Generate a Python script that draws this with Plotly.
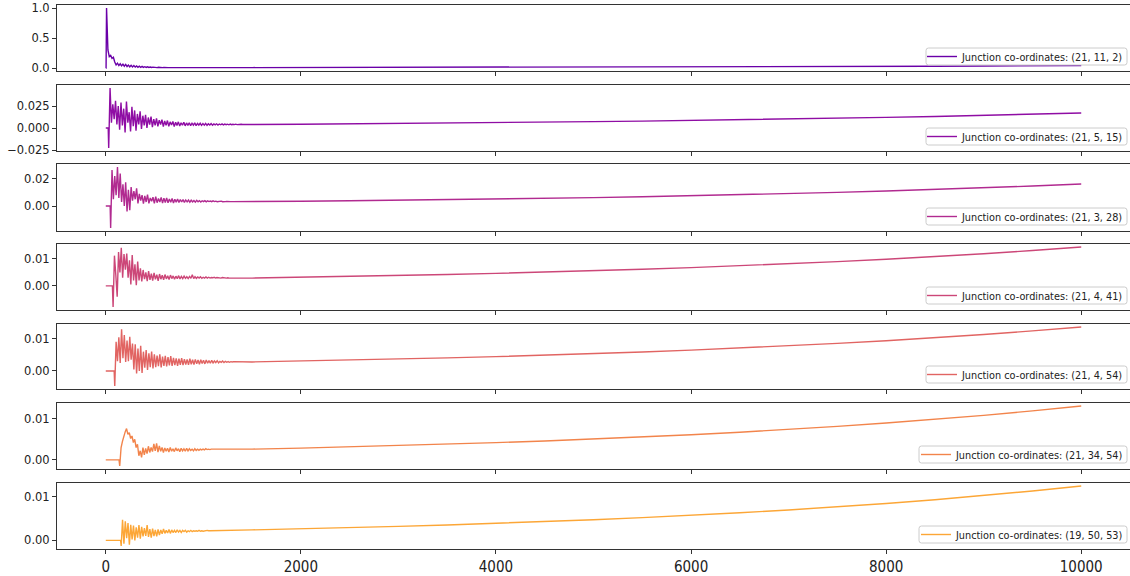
import numpy as np
import plotly.graph_objects as go

# ---------------------------------------------------------------- data
LABELS = [
    "Junction co-ordinates: (21, 11, 2)",
    "Junction co-ordinates: (21, 5, 15)",
    "Junction co-ordinates: (21, 3, 28)",
    "Junction co-ordinates: (21, 4, 41)",
    "Junction co-ordinates: (21, 4, 54)",
    "Junction co-ordinates: (21, 34, 54)",
    "Junction co-ordinates: (19, 50, 53)",
]

# last time each junction is still at rest, and first sample of its transient
QUIET_UNTIL = [3, 25, 45, 68, 86, 136, 152]
BURST_START = [8, 30, 50, 75, 92, 143, 158]
BURST_STEP = 14

burst_1 = [1.0, 0.30, 0.19, 0.21, 0.16, 0.18, 0.10, 0.05, 0.08, 0.04,
           0.07, 0.035, 0.065, 0.03, 0.06, 0.025, 0.05, 0.02, 0.045, 0.018,
           0.04, 0.015, 0.035, 0.012, 0.03, 0.012, 0.026, 0.01, 0.022, 0.009,
           0.02, 0.009, 0.017, 0.008, 0.015, 0.008, 0.013, 0.007, 0.012, 0.007,
           0.011, 0.007, 0.010, 0.007, 0.009, 0.007]
burst_2 = [-0.0227, 0.0455, 0.006, 0.027, 0.010, 0.031, 0.004, 0.025, -0.002, 0.029,
           0.003, 0.022, -0.005, 0.030, 0.006, 0.018, -0.004, 0.024, 0.002, 0.020,
           -0.003, 0.016, 0.004, 0.019, -0.001, 0.014, 0.003, 0.015, 0.000, 0.012,
           0.004, 0.013, 0.001, 0.010, 0.003, 0.011, 0.002, 0.009, 0.004, 0.0095,
           0.0015, 0.008, 0.003, 0.0085, 0.002, 0.007, 0.0035, 0.0075, 0.0018, 0.0065,
           0.003, 0.007, 0.0022, 0.006, 0.0032, 0.0065, 0.0025, 0.0058, 0.003, 0.006,
           0.0028, 0.0055, 0.0033, 0.0058, 0.0027, 0.0052, 0.0034, 0.0054, 0.003, 0.005,
           0.0033, 0.0052, 0.0031, 0.0049, 0.0035, 0.005, 0.0032, 0.0047, 0.0036, 0.0048,
           0.0034, 0.0046, 0.0037, 0.0047, 0.0035, 0.0045, 0.0038, 0.0044, 0.0037, 0.0045,
           0.0038, 0.0043, 0.0039, 0.0044, 0.0039, 0.0042, 0.004, 0.0043, 0.004, 0.0041]
burst_3 = [-0.0161, 0.0265, 0.005, 0.022, 0.008, 0.0287, 0.006, 0.024, 0.003, 0.016,
           0.0, 0.0175, -0.004, 0.012, -0.003, 0.014, 0.004, 0.011, 0.005, 0.013,
           0.002, 0.009, 0.004, 0.008, 0.0017, 0.0075, 0.003, 0.0085, 0.002, 0.006,
           0.0035, 0.0065, 0.002, 0.007, 0.0025, 0.0055, 0.003, 0.0064, 0.0022, 0.0058,
           0.0026, 0.006, 0.0024, 0.0052, 0.0028, 0.0056, 0.0023, 0.005, 0.0029, 0.0052,
           0.0026, 0.0048, 0.003, 0.0047, 0.0027, 0.0045, 0.0031, 0.0044, 0.0028, 0.0043,
           0.0031, 0.0041, 0.0029, 0.0042, 0.0032, 0.004, 0.003, 0.0039, 0.0033, 0.004,
           0.0031, 0.0038, 0.0033, 0.0037, 0.0032, 0.0038, 0.0033, 0.0036, 0.0032, 0.0035,
           0.0033, 0.0036, 0.0032, 0.0035, 0.0033, 0.0034, 0.0032, 0.0034, 0.0033, 0.0033]
burst_4 = [-0.0078, 0.0112, 0.004, -0.004, 0.0125, 0.005, 0.0141, 0.003, 0.0118, 0.006,
           0.012, 0.003, 0.0095, 0.0005, 0.0114, 0.002, 0.008, 0.0003, 0.009, 0.002,
           0.0065, 0.0017, 0.0059, 0.0025, 0.005, 0.0018, 0.0055, 0.0022, 0.0045, 0.002,
           0.0048, 0.0024, 0.0042, 0.0019, 0.0044, 0.0025, 0.004, 0.0023, 0.0042, 0.0026,
           0.0038, 0.0024, 0.004, 0.0027, 0.0037, 0.0025, 0.0036, 0.0027, 0.0038, 0.0026,
           0.0035, 0.0027, 0.0036, 0.0028, 0.0034, 0.0027, 0.0035, 0.0028, 0.0041, 0.0027,
           0.0034, 0.0028, 0.0033, 0.0029, 0.0034, 0.0028, 0.0032, 0.0029, 0.0033, 0.0029,
           0.0032, 0.0029, 0.0031, 0.003, 0.0032, 0.0029, 0.0031, 0.003, 0.0031, 0.0029,
           0.0031, 0.003, 0.003, 0.0029, 0.003, 0.0029]
burst_5 = [-0.0047, 0.0091, 0.003, 0.0105, 0.0025, 0.0130, 0.004, 0.0112, 0.0028, 0.0095,
           0.003, 0.0106, 0.0035, 0.0085, 0.0005, 0.0083, -0.0008, 0.007, 0.0, 0.0078,
           -0.0006, 0.006, 0.001, 0.0065, 0.0003, 0.0055, 0.0012, 0.006, 0.0008, 0.0052,
           0.0012, 0.0048, 0.0015, 0.0052, 0.0011, 0.0045, 0.0016, 0.0047, 0.0014, 0.0043,
           0.0017, 0.0046, 0.0016, 0.0041, 0.0018, 0.0039, 0.0016, 0.0038, 0.0019, 0.004,
           0.0018, 0.0037, 0.002, 0.0036, 0.0019, 0.0038, 0.0021, 0.0035, 0.002, 0.0036,
           0.0022, 0.0034, 0.0021, 0.0035, 0.0023, 0.0033, 0.0022, 0.0034, 0.0024, 0.0032,
           0.0024, 0.0033, 0.0025, 0.0031, 0.0026, 0.0032, 0.0025, 0.003, 0.0027, 0.0031,
           0.0026, 0.003, 0.0027, 0.0029, 0.0027, 0.0029, 0.0028, 0.0029]
burst_6 = [-0.0015, 0.0030, 0.0045, 0.0060, 0.0068, 0.0076, 0.0062, 0.0066, 0.0052, 0.0058,
           0.0042, 0.0050, 0.0030, 0.0038, 0.0010, 0.0022, 0.0006, 0.0030, 0.0012, 0.0028,
           0.0015, 0.0033, 0.0018, 0.0030, 0.0020, 0.0039, 0.0022, 0.0040, 0.0019, 0.0034,
           0.0021, 0.0030, 0.0018, 0.0029, 0.0021, 0.0028, 0.0019, 0.0030, 0.0021, 0.0027,
           0.0020, 0.0029, 0.0022, 0.0027, 0.0020, 0.0028, 0.0022, 0.0027, 0.0021, 0.0028,
           0.0022, 0.0027, 0.0023, 0.0026, 0.0022, 0.0027, 0.0023, 0.0026, 0.0023, 0.0026,
           0.0024, 0.0026, 0.0024, 0.0027, 0.0025, 0.0026, 0.0025, 0.0026]
burst_7 = [-0.0013, 0.0047, -0.0008, 0.0044, 0.0005, 0.0040, -0.0010, 0.0036, 0.0002, 0.0034,
           0.0000, 0.0030, 0.0006, 0.0035, 0.0004, 0.0031, 0.0009, 0.0028, 0.0010, 0.0035,
           0.0008, 0.0026, 0.0006, 0.0027, 0.0010, 0.0024, 0.0009, 0.0025, 0.0012, 0.0024,
           0.0015, 0.0026, 0.0016, 0.0023, 0.0017, 0.0025, 0.0016, 0.0024, 0.0018, 0.0023,
           0.0018, 0.0024, 0.0019, 0.0023, 0.0018, 0.0023, 0.0020, 0.0023, 0.0019, 0.0022,
           0.0020, 0.0023, 0.0020, 0.0022, 0.0021, 0.0022, 0.0021, 0.0023, 0.0021, 0.0022,
           0.0021, 0.0022, 0.0022, 0.0023, 0.0022, 0.0022]

# slow drift after the transient has died out
TAIL_T = [1500, 2000, 2500, 3000, 3500, 4000, 4500, 5000, 5500, 6000,
          6500, 7000, 7500, 8000, 8500, 9000, 9500, 10000]
tail_1 = [0.0070, 0.0078, 0.0086, 0.0095, 0.0105, 0.0117, 0.0129, 0.0143, 0.0159,
          0.0176, 0.0195, 0.0216, 0.0239, 0.0265, 0.0294, 0.0325, 0.0361, 0.0400]
tail_2 = [0.00400, 0.00436, 0.00474, 0.00516, 0.00562, 0.00612, 0.00667, 0.00726, 0.00790,
          0.00861, 0.00937, 0.01020, 0.01111, 0.01210, 0.01318, 0.01435, 0.01562, 0.01701]
tail_3 = [0.00320, 0.00352, 0.00387, 0.00426, 0.00469, 0.00516, 0.00567, 0.00624, 0.00686,
          0.00755, 0.00831, 0.00914, 0.01005, 0.01106, 0.01216, 0.01338, 0.01472, 0.01620]
tail_4 = [0.00290, 0.00319, 0.00350, 0.00385, 0.00423, 0.00464, 0.00510, 0.00561, 0.00616,
          0.00677, 0.00744, 0.00818, 0.00898, 0.00987, 0.01085, 0.01192, 0.01310, 0.01440]
tail_5 = [0.00280, 0.00307, 0.00337, 0.00370, 0.00407, 0.00446, 0.00490, 0.00538, 0.00591,
          0.00648, 0.00712, 0.00781, 0.00858, 0.00942, 0.01034, 0.01135, 0.01247, 0.01370]
tail_6 = [0.00260, 0.00286, 0.00315, 0.00346, 0.00380, 0.00418, 0.00460, 0.00506, 0.00556,
          0.00612, 0.00673, 0.00740, 0.00814, 0.00895, 0.00985, 0.01083, 0.01191, 0.01310]
tail_7 = [0.00240, 0.00264, 0.00291, 0.00321, 0.00354, 0.00390, 0.00430, 0.00474, 0.00522,
          0.00575, 0.00634, 0.00699, 0.00770, 0.00849, 0.00935, 0.01031, 0.01136, 0.01250]

BURSTS = [burst_1, burst_2, burst_3, burst_4, burst_5, burst_6, burst_7]
TAILS = [tail_1, tail_2, tail_3, tail_4, tail_5, tail_6, tail_7]

X_TICKS = [0, 2000, 4000, 6000, 8000, 10000]
X_TICK_TEXT = ["0", "2000", "4000", "6000", "8000", "10000"]
Y_TICKS = [
    [0.0, 0.5, 1.0],
    [-0.025, 0.0, 0.025],
    [0.0, 0.02],
    [0.0, 0.01],
    [0.0, 0.01],
    [0.0, 0.01],
    [0.0, 0.01],
]
Y_TICK_TEXT = [
    ["0.0", "0.5", "1.0"],
    ["\u22120.025", "0.000", "0.025"],
    ["0.00", "0.02"],
    ["0.00", "0.01"],
    ["0.00", "0.01"],
    ["0.00", "0.01"],
    ["0.00", "0.01"],
]

# plasma colormap samples, 0.2 ... 0.8
COLORS = ["#6a00a8", "#8f0da4", "#b12a90", "#cc4778", "#e16462", "#f2844b", "#fca636"]

# ---------------------------------------------------------------- layout geometry (px)
W, H = 1130, 576
LEFT, RIGHT = 57, 1130
PANELS = [(5, 71), (85, 151), (164, 231), (244, 310), (324, 389), (403, 469), (483, 549)]
LEGEND_LEFT = [926, 926, 926, 926, 926, 919, 919]
LEGEND_RIGHT = 1127
LEGEND_H = 17
LEGEND_BOTTOM_GAP = 6


def paper_x(px):
    return (px - LEFT) / (RIGHT - LEFT)


def paper_y(py):
    return (H - py) / H


def rounded_box(x0, y0, x1, y1, r=2.5):
    """SVG path (paper coords) of a rounded rectangle given in pixels."""
    rx = r / (RIGHT - LEFT)
    ry = r / H
    a, b = paper_x(x0), paper_x(x1)
    top, bot = paper_y(y0), paper_y(y1)
    return (f"M {a + rx},{top} L {b - rx},{top} Q {b},{top} {b},{top - ry} "
            f"L {b},{bot + ry} Q {b},{bot} {b - rx},{bot} "
            f"L {a + rx},{bot} Q {a},{bot} {a},{bot + ry} "
            f"L {a},{top - ry} Q {a},{top} {a + rx},{top} Z")


fig = go.Figure()
layout = dict(
    width=W, height=H,
    margin=dict(l=LEFT, r=W - RIGHT, t=0, b=0, pad=0, autoexpand=False),
    paper_bgcolor="white", plot_bgcolor="white",
    showlegend=True,
    font=dict(family="DejaVu Sans", size=11, color="#222"),
)
shapes = []

for i in range(7):
    burst = BURSTS[i]
    t_burst = BURST_START[i] + BURST_STEP * np.arange(len(burst))
    t = np.concatenate([[0, QUIET_UNTIL[i]], t_burst, TAIL_T])
    y = np.concatenate([[0.0, 0.0], burst, TAILS[i]])

    n = i + 1
    suffix = "" if n == 1 else str(n)
    legend_name = "legend" if n == 1 else f"legend{n}"
    fig.add_trace(go.Scatter(
        x=t, y=y, mode="lines", name=LABELS[i],
        line=dict(color=COLORS[i], width=1.4),
        xaxis=f"x{suffix}", yaxis=f"y{suffix}",
        legend=legend_name,
    ))

    lo, hi = float(np.min(y)), float(np.max(y))
    pad = 0.05 * (hi - lo)
    top, bottom = PANELS[i]

    layout[f"yaxis{suffix}"] = dict(
        domain=[paper_y(bottom), paper_y(top)],
        anchor=f"x{suffix}",
        range=[lo - pad, hi + pad],
        tickvals=Y_TICKS[i], ticktext=Y_TICK_TEXT[i],
        ticks="outside", ticklen=4, tickwidth=1, tickcolor="#333",
        showline=True, mirror=True, linecolor="#333", linewidth=1,
        showgrid=False, zeroline=False, automargin=False,
        tickfont=dict(family="DejaVu Sans", size=11.5, color="#222"),
    )
    layout[f"xaxis{suffix}"] = dict(
        domain=[0, 1],
        anchor=f"y{suffix}",
        range=[-500, 10500],
        tickvals=X_TICKS, ticktext=X_TICK_TEXT,
        showticklabels=(n == 7),
        ticks="outside", ticklen=4, tickwidth=1, tickcolor="#333",
        showline=True, mirror=True, linecolor="#333", linewidth=1,
        showgrid=False, zeroline=False, automargin=False,
        tickfont=dict(family="Liberation Sans Narrow, DejaVu Sans Condensed, DejaVu Sans",
                      size=15, color="#222"),
    )

    # legend frame drawn as a shape so its size follows the text closely
    box_bottom = bottom - LEGEND_BOTTOM_GAP
    box_top = box_bottom - LEGEND_H
    shapes.append(dict(
        type="path", xref="paper", yref="paper", layer="above",
        path=rounded_box(LEGEND_LEFT[i], box_top, LEGEND_RIGHT, box_bottom),
        fillcolor="rgba(255,255,255,0.8)", line=dict(color="#cccccc", width=1),
    ))
    layout[legend_name] = dict(
        x=paper_x(LEGEND_RIGHT + 2), xanchor="right",
        y=paper_y((box_top + box_bottom) / 2), yanchor="middle",
        bgcolor="rgba(0,0,0,0)", borderwidth=0,
        font=dict(family="DejaVu Sans Condensed, DejaVu Sans", size=10.8, color="#222"),
        itemwidth=30, tracegroupgap=0,
    )

layout["shapes"] = shapes
fig.update_layout(**layout)
fig.write_html("out.html")
